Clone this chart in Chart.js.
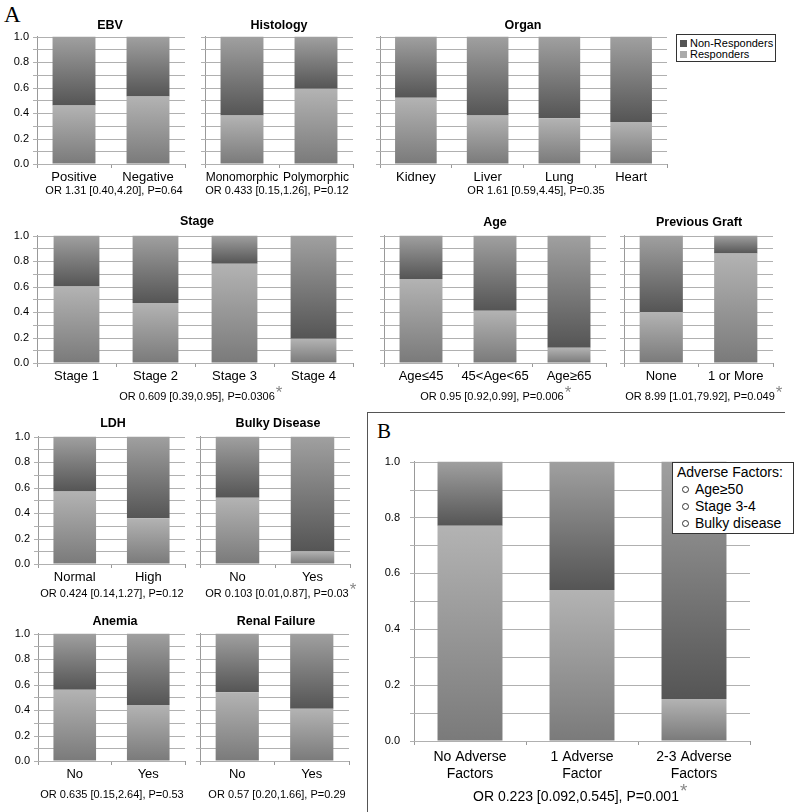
<!DOCTYPE html>
<html>
<head>
<meta charset="utf-8">
<script src="https://cdn.jsdelivr.net/npm/chart.js@4.4.0/dist/chart.umd.min.js"></script>
<style>
  body { margin: 0; background: #fff; width: 800px; height: 812px; position: relative; overflow: hidden;
         font-family: 'Liberation Sans', Arial, sans-serif; color: #000; }
  canvas { position: absolute; }
  .ttl { position: absolute; font-weight: bold; font-size: 12.5px; transform: translate(-50%, -50%); white-space: nowrap; }
  .or { position: absolute; font-size: 11px; transform: translate(-50%, -50%); white-space: nowrap; }
  .or.big { font-size: 14px; }
  .star { position: absolute; left: 100%; top: -7px; margin-left: 1px; color: #888; font-size: 17px; }
  .big .star { top: -8px; font-size: 19px; }
  .letter { position: absolute; font-family: 'Liberation Serif', 'Times New Roman', serif; font-size: 23px; }
  .legA { position: absolute; left: 676px; top: 34px; width: 98px; height: 26px; border: 1px solid #333; font-size: 11px; }
  .legA div { position: absolute; left: 13px; white-space: nowrap; line-height: 11px; }
  .legA span { position: absolute; left: -10px; top: 2px; width: 7px; height: 7px; }
  .legB { position: absolute; left: 672px; top: 462px; width: 120px; height: 70px; border: 1px solid #333;
          background: #fff; font-size: 14px; z-index: 5; }
  .legB div { position: absolute; white-space: nowrap; line-height: 16px; }
  .legB span { position: absolute; left: -13px; top: 5px; width: 5px; height: 5px; border: 1px solid #333; border-radius: 50%; }
  .line { position: absolute; background: #555; }
</style>
</head>
<body>

<div class="letter" style="left:4px; top:2px;">A</div>
<div class="letter" style="left:377px; top:419px; font-size:21px;">B</div>
<div class="line" style="left:367px; top:412px; width:418px; height:1px;"></div>
<div class="line" style="left:367px; top:412px; width:1px; height:400px;"></div>

<div class="legA">
  <div style="top:3px;"><span style="background:#555;"></span>Non-Responders</div>
  <div style="top:14px;"><span style="background:#aaa;"></span>Responders</div>
</div>

<div class="legB">
  <div style="left:4px; top:1px;">Adverse Factors:</div>
  <div style="left:22px; top:18px;"><span></span>Age≥50</div>
  <div style="left:22px; top:35px;"><span></span>Stage 3-4</div>
  <div style="left:22px; top:52px;"><span></span>Bulky disease</div>
</div>

<script>
// y grid positions (labels on every second one)
var yTicks = [0, 0.1, 0.2, 0.3, 0.4, 0.5, 0.6, 0.7, 0.8, 0.9, 1.0];

// proportions of responders / non-responders per category
var ebvLabels = ['Positive', 'Negative'];
var ebvResp = [0.46, 0.53];
var ebvNonResp = [0.54, 0.47];

var histLabels = ['Monomorphic', 'Polymorphic'];
var histResp = [0.38, 0.59];
var histNonResp = [0.62, 0.41];

var organLabels = ['Kidney', 'Liver', 'Lung', 'Heart'];
var organResp = [0.52, 0.38, 0.36, 0.33];
var organNonResp = [0.48, 0.62, 0.64, 0.67];

var stageLabels = ['Stage 1', 'Stage 2', 'Stage 3', 'Stage 4'];
var stageResp = [0.60, 0.47, 0.78, 0.19];
var stageNonResp = [0.40, 0.53, 0.22, 0.81];

var ageLabels = ['Age≤45', '45<Age<65', 'Age≥65'];
var ageResp = [0.66, 0.41, 0.12];
var ageNonResp = [0.34, 0.59, 0.88];

var graftLabels = ['None', '1 or More'];
var graftResp = [0.40, 0.86];
var graftNonResp = [0.60, 0.14];

var ldhLabels = ['Normal', 'High'];
var ldhResp = [0.57, 0.36];
var ldhNonResp = [0.43, 0.64];

var bulkyLabels = ['No', 'Yes'];
var bulkyResp = [0.52, 0.10];
var bulkyNonResp = [0.48, 0.90];

var anemiaLabels = ['No', 'Yes'];
var anemiaResp = [0.56, 0.44];
var anemiaNonResp = [0.44, 0.56];

var renalLabels = ['No', 'Yes'];
var renalResp = [0.54, 0.41];
var renalNonResp = [0.46, 0.59];

var adverseLabels = [['No Adverse', 'Factors'], ['1 Adverse', 'Factor'], ['2-3 Adverse', 'Factors']];
var adverseResp = [0.77, 0.54, 0.15];
var adverseNonResp = [0.23, 0.46, 0.85];

Chart.defaults.font.family = "'Liberation Sans', Arial, sans-serif";
Chart.defaults.color = '#000';

// L/R/T/B = plot area edges in page pixels
var panels = [
  {labels: ebvLabels, resp: ebvResp, non: ebvNonResp, title: 'EBV', tx: 110, ty: 25,
   or: 'OR 1.31 [0.40,4.20], P=0.64', ox: 114, oy: 190, L: 37, R: 185, T: 34, B: 164, yl: true},
  {labels: histLabels, resp: histResp, non: histNonResp, title: 'Histology', tx: 279, ty: 25, fs: 12,
   or: 'OR 0.433 [0.15,1.26], P=0.12', ox: 277, oy: 190, L: 205, R: 353, T: 34, B: 164},
  {labels: organLabels, resp: organResp, non: organNonResp, title: 'Organ', tx: 523, ty: 25,
   or: 'OR 1.61 [0.59,4.45], P=0.35', ox: 536, oy: 190, L: 380, R: 667, T: 34, B: 164},
  {labels: stageLabels, resp: stageResp, non: stageNonResp, title: 'Stage', tx: 197, ty: 221,
   or: 'OR 0.609 [0.39,0.95], P=0.0306', star: true, ox: 197, oy: 396, L: 37, R: 353, T: 233, B: 363, yl: true},
  {labels: ageLabels, resp: ageResp, non: ageNonResp, title: 'Age', tx: 495, ty: 222,
   or: 'OR 0.95 [0.92,0.99], P=0.006', star: true, ox: 492, oy: 396, L: 384, R: 606, T: 233, B: 363},
  {labels: graftLabels, resp: graftResp, non: graftNonResp, title: 'Previous Graft', tx: 699, ty: 222,
   or: 'OR 8.99 [1.01,79.92], P=0.049', star: true, ox: 700, oy: 396, L: 624, R: 773, T: 233, B: 363},
  {labels: ldhLabels, resp: ldhResp, non: ldhNonResp, title: 'LDH', tx: 113, ty: 423,
   or: 'OR 0.424 [0.14,1.27], P=0.12', ox: 112, oy: 593, L: 38, R: 185, T: 434, B: 564, yl: true},
  {labels: bulkyLabels, resp: bulkyResp, non: bulkyNonResp, title: 'Bulky Disease', tx: 278, ty: 423,
   or: 'OR 0.103 [0.01,0.87], P=0.03', star: true, ox: 277, oy: 593, L: 200, R: 350, T: 434, B: 564},
  {labels: anemiaLabels, resp: anemiaResp, non: anemiaNonResp, title: 'Anemia', tx: 115, ty: 621,
   or: 'OR 0.635 [0.15,2.64], P=0.53', ox: 112, oy: 794, L: 38, R: 185, T: 631, B: 761, yl: true},
  {labels: renalLabels, resp: renalResp, non: renalNonResp, title: 'Renal Failure', tx: 276, ty: 621,
   or: 'OR 0.57 [0.20,1.66], P=0.29', ox: 277, oy: 794, L: 200, R: 349, T: 631, B: 761},
  {labels: adverseLabels, resp: adverseResp, non: adverseNonResp, big: true,
   or: 'OR 0.223 [0.092,0.545], P=0.001', star: true, ox: 576, oy: 796, L: 414, R: 750, T: 453, B: 741, yl: true}
];

function segFill(which) {
  return function(c) {
    var chart = c.chart, ys = chart.scales.y;
    if (!chart.chartArea || !ys || c.dataIndex === undefined) return which ? '#777' : '#999';
    var d0 = chart.data.datasets[0].data[c.dataIndex];
    var d1 = chart.data.datasets[1].data[c.dataIndex];
    var bottom = ys.getPixelForValue(which ? d0 : 0);
    var top = ys.getPixelForValue(which ? d0 + d1 : d0);
    var g = chart.ctx.createLinearGradient(0, top, 0, bottom);
    if (which) { g.addColorStop(0, '#a0a0a0'); g.addColorStop(1, '#555'); }
    else { g.addColorStop(0, '#b3b3b3'); g.addColorStop(1, '#7a7a7a'); }
    return g;
  };
}

// draws every 0.1 gridline + its little tick left of the axis
var tenthGrid = {
  id: 'tenthGrid',
  beforeDatasetsDraw: function(chart) {
    var ys = chart.scales.y, a = chart.chartArea, ctx = chart.ctx;
    ctx.save();
    ctx.strokeStyle = '#b0b0b0';
    ctx.lineWidth = 1;
    yTicks.forEach(function(v) {
      var y = Math.round(ys.getPixelForValue(v)) + 0.5;
      ctx.beginPath();
      ctx.moveTo(a.left - 4, y);
      ctx.lineTo(a.right, y);
      ctx.stroke();
    });
    ctx.restore();
  }
};

function addText(cls, txt, x, y, star) {
  var d = document.createElement('div');
  d.className = cls;
  d.style.left = x + 'px';
  d.style.top = y + 'px';
  d.textContent = txt;
  if (star) {
    var s = document.createElement('span');
    s.className = 'star';
    s.textContent = '*';
    d.appendChild(s);
  }
  document.body.appendChild(d);
}

panels.forEach(function(p) {
  var yW = p.yl ? (p.big ? 44 : p.L) : 6;
  var xH = p.big ? 45 : 24;
  var left = p.L - yW, top = p.T - 8;
  var cv = document.createElement('canvas');
  cv.width = p.R + 4 - left;
  cv.height = p.B + xH - top;
  cv.style.left = left + 'px';
  cv.style.top = top + 'px';
  document.body.appendChild(cv);

  new Chart(cv.getContext('2d'), {
    type: 'bar',
    data: {
      labels: p.labels,
      datasets: [
        {label: 'Responders', data: p.resp, backgroundColor: segFill(0), borderWidth: 0},
        {label: 'Non-Responders', data: p.non, backgroundColor: segFill(1), borderWidth: 0}
      ]
    },
    options: {
      responsive: false,
      animation: false,
      devicePixelRatio: 1,
      layout: {padding: {top: 8, right: 4, left: 0, bottom: 0}},
      plugins: {legend: {display: false}, tooltip: {enabled: false}},
      datasets: {bar: {categoryPercentage: 1, barPercentage: 0.58}},
      scales: {
        x: {
          stacked: true,
          afterFit: function(s) { s.height = xH; },
          grid: {drawOnChartArea: false, tickLength: 4, color: '#999'},
          border: {color: '#999'},
          ticks: {font: {size: p.big ? 14 : (p.fs || 13)}, padding: p.big ? 4 : 2, maxRotation: 0, minRotation: 0, autoSkip: false}
        },
        y: {
          stacked: true,
          min: 0, max: 1,
          afterFit: function(s) { s.width = yW; },
          afterBuildTicks: function(s) { s.ticks = yTicks.map(function(v) { return {value: v}; }); },
          grid: {color: 'rgba(0,0,0,0)', tickLength: 4},
          border: {color: '#999'},
          ticks: {
            autoSkip: false,
            font: {size: 11},
            padding: p.big ? 10 : 4,
            callback: function(v, i) { return (p.yl && i % 2 === 0) ? v.toFixed(1) : ''; }
          }
        }
      }
    },
    plugins: [tenthGrid]
  });

  if (p.title) addText('ttl', p.title, p.tx, p.ty);
  addText(p.big ? 'or big' : 'or', p.or, p.ox, p.oy, p.star);
});
</script>
</body>
</html>
